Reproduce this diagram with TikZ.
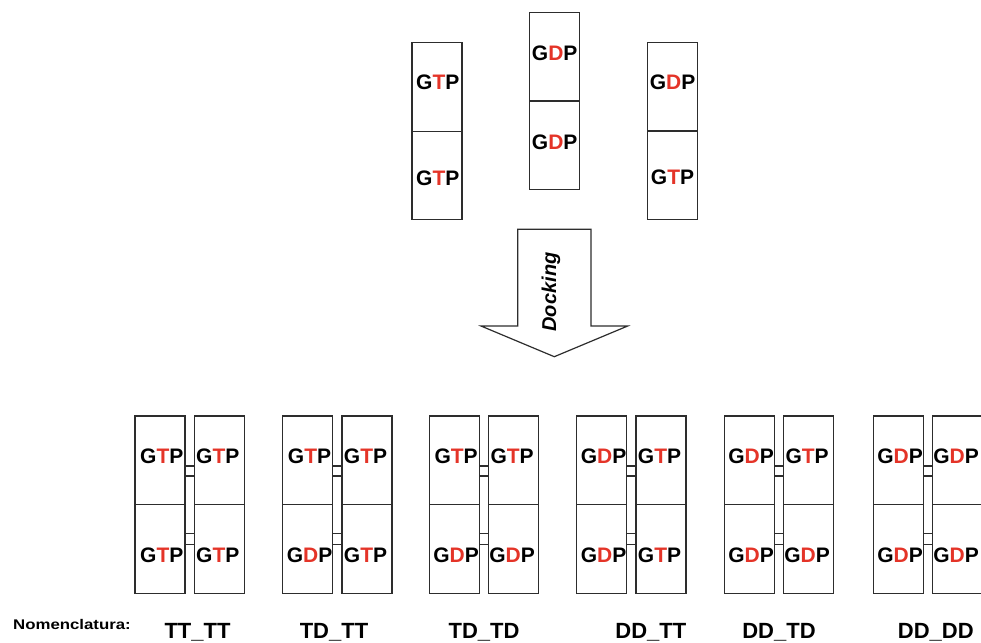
\documentclass[tikz,border=0pt]{standalone}
\usepackage{fontspec}
\setmainfont{Liberation Sans}
\definecolor{gred}{RGB}{228,52,40}
\definecolor{lin}{RGB}{45,45,45}
\newcommand\gtpx{G\textcolor{gred}{T}P}
\newcommand\gdpx{G\textcolor{gred}{D}P}
\begin{document}
\begin{tikzpicture}[x=1pt,y=-1pt,
  cell/.style={draw=lin,line width=1.2pt,minimum width=50pt,minimum height=88.5pt,inner sep=0pt,outer sep=0pt},
  nuc/.style={font=\bfseries\fontsize{21}{23}\selectfont,inner sep=0pt},
  nom/.style={font=\bfseries\fontsize{22}{24}\selectfont,inner sep=0pt,anchor=base},
  link/.style={draw=lin,line width=1.1pt},
  bigarrow/.style={draw=lin,line width=1.2pt,fill=white}]
\useasboundingbox (0,0) rectangle (981,642);
% ---- top monomers ----
\node[cell] (a1) at (437,87) {};
\node[cell] (a2) at (437,175.5) {};
\node[nuc] (ta1) at (437.8,82) {\gtpx};
\node[nuc] (ta2) at (437.8,178) {\gtpx};
\node[cell] (b1) at (554.7,56.5) {};
\node[cell] (b2) at (554.7,145.5) {};
\node[nuc] (tb1) at (554.7,53) {\gdpx};
\node[nuc] (tb2) at (554.7,142) {\gdpx};
\node[cell] (c1) at (672.5,86.8) {};
\node[cell] (c2) at (672.5,175) {};
\node[nuc] (tc1) at (672.5,82) {\gdpx};
\node[nuc] (tc2) at (672.5,177) {\gtpx};
% ---- docking arrow ----
\draw[bigarrow] (517.7,229.3) -- (591,229.3) -- (591,326) -- (627.7,326)
   -- (554.3,356.7) -- (481,326) -- (517.7,326) -- cycle;
\node[font=\bfseries\itshape\fontsize{20}{22}\selectfont,rotate=90,inner sep=0pt] (dock) at (551,292) {Docking};
% ---- dimers ----
\foreach \i/\xl/\ua/\ub/\la/\lb/\lab/\lx in {
  1/135/\gtpx/\gtpx/\gtpx/\gtpx/TT\_TT/197.5,
  2/282.7/\gtpx/\gtpx/\gdpx/\gtpx/TD\_TT/334,
  3/429.3/\gtpx/\gtpx/\gdpx/\gdpx/TD\_TD/484,
  4/576.7/\gdpx/\gtpx/\gdpx/\gtpx/DD\_TT/650.8,
  5/724.3/\gdpx/\gtpx/\gdpx/\gdpx/DD\_TD/779,
  6/873.3/\gdpx/\gdpx/\gdpx/\gdpx/DD\_DD/935.8}{
  \pgfmathsetmacro\xa{\xl+25}
  \pgfmathsetmacro\xb{\xl+59.3+25}
  \node[cell] (p\i ul) at (\xa,460.2) {};
  \node[cell] (p\i ll) at (\xa,549.1) {};
  \node[cell] (p\i ur) at (\xb,460.2) {};
  \node[cell] (p\i lr) at (\xb,549.1) {};
  \node[nuc] (t\i ul) at (\xa+1.8,456.5) {\ua};
  \node[nuc] (t\i ur) at (\xb-1.5,456.5) {\ub};
  \node[nuc] (t\i ll) at (\xa+1.8,555) {\la};
  \node[nuc] (t\i lr) at (\xb-1.5,555) {\lb};
  \draw[link] ([yshift=-5.8pt]p\i ul.east) rectangle ([yshift=-15.8pt]p\i ur.west);
  \draw[link] ([yshift=16pt]p\i ll.east) rectangle ([yshift=5pt]p\i lr.west);
  \node[nom] (n\i) at (\lx,638.5) {\lab};
}
\node[font=\bfseries\fontsize{14}{16}\selectfont,inner sep=0pt,anchor=base west] (nomen) at (13,629.5) {\scalebox{1.2}[1]{Nomenclatura:}};
\end{tikzpicture}
\end{document}
